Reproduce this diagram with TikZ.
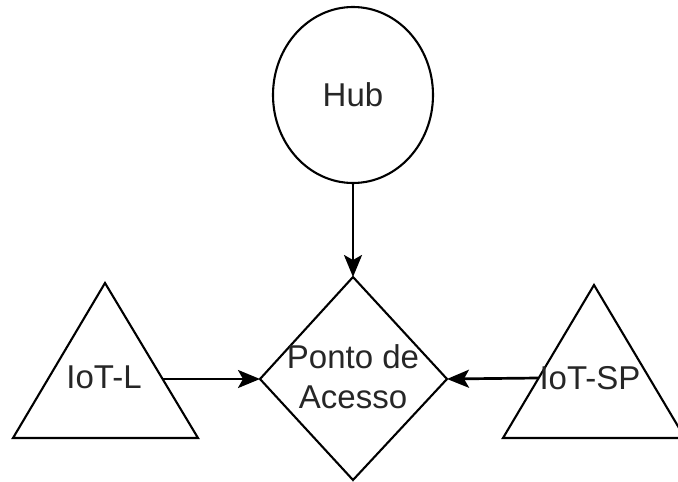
\documentclass[tikz,border=0pt]{standalone}
\usepackage{fontspec}
\setmainfont{Liberation Sans}
\usetikzlibrary{arrows.meta,shapes.geometric}
\begin{document}
\begin{tikzpicture}[x=1pt,y=-1pt,
  shapeline/.style={draw=black,line width=2.1pt,line join=miter},
  txt/.style={font=\fontsize{33}{40}\selectfont,text=black!85,inner sep=0pt,align=center},
  link/.style={draw=black,line width=2.7pt,-{Stealth[length=22pt,width=18pt,inset=5pt]}}]
\useasboundingbox (0,0) rectangle (678,482);
\clip (0,0) rectangle (678,482);
\fill[white] (0,0) rectangle (678,482);

% Hub
\node[shapeline,ellipse,minimum width=160pt,minimum height=176pt,inner sep=0pt,txt] (hub) at (353,95) {Hub};

% Access point diamond
\draw[shapeline] (353,277) coordinate (apTop) -- (447,379) coordinate (apRight)
  -- (353,480) coordinate (apBottom) -- (260,379) coordinate (apLeft) -- cycle;
\node[txt] (ap) at (353,377) {Ponto de\\Acesso};

% IoT-L triangle
\draw[shapeline] (105,283) -- (198,438) -- (13,438) -- cycle;
\coordinate (iotlOut) at (163,379);
\node[txt] (iotl) at (104,377) {IoT-L};

% IoT-SP triangle
\draw[shapeline] (594,285) -- (685,438) -- (503,438) -- cycle;
\coordinate (iotspOut) at (538,378);
\node[txt] (iotsp) at (590,378) {IoT-SP};

% Connectors
\draw[link] (hub.south) -- (apTop);
\draw[link] (iotlOut) -- (apLeft);
\draw[link] (iotspOut) -- (apRight);
\end{tikzpicture}
\end{document}
